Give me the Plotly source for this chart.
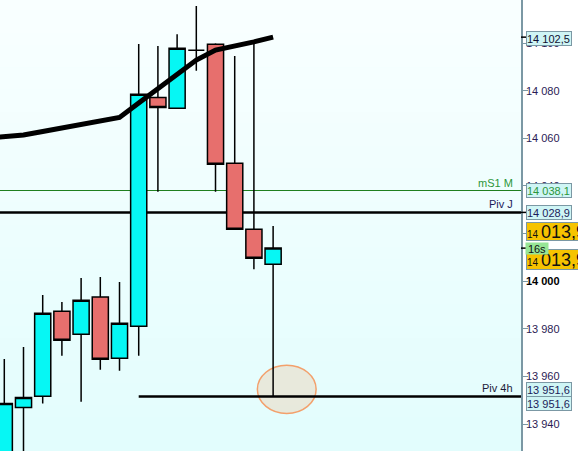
import plotly.graph_objects as go

# ---------------- data ----------------
bar_idx = list(range(15))
opens  = [13922.0, 13947.0, 13951.7, 13987.4, 13977.7, 13993.4, 13967.6, 13981.1, 14077.2, 14072.6, 14097.0, 14099.5, 14049.5, 14021.8, 14007.1]
highs  = [13967.3, 13972.4, 13994.2, 13991.3, 14001.3, 14001.8, 13999.7, 14099.6, 14098.8, 14103.7, 14115.6, 14099.9, 14094.6, 14099.9, 14023.2]
lows   = [13915.0, 13918.0, 13948.6, 13968.7, 13949.4, 13962.8, 13962.4, 13968.7, 14037.6, 14072.6, 14088.4, 14037.6, 14021.8, 14005.0, 13951.6]
closes = [13948.7, 13951.2, 13986.5, 13975.2, 13992.0, 13967.2, 13982.3, 14078.5, 14073.0, 14097.8, 14097.0, 14049.1, 14021.8, 14009.6, 14013.9]

ma_idx  = list(range(-1, 15))
ma_vals = [14060.1, 14060.8, 14061.4, 14062.9, 14064.4, 14065.9, 14067.4, 14068.8,
           14074.8, 14080.9, 14087.0, 14092.9, 14097.1, 14098.7, 14100.5, 14102.5]

level_names  = ["mS1 M", "Piv J", "Piv 4h"]
level_values = [14038.1, 14028.9, 13951.6]
level_start  = [None, None, 7.0]          # bar index where the line starts (None = left edge)

last_price = 14013.9
ma_last = 14102.5
timer_text = "16s"

tick_vals = [13940, 13960, 13980, 14000, 14020, 14040, 14060, 14080, 14100]
tick_text = ["13 940", "13 960", "13 980", "<b><span style='color:#000000'>14 000</span></b>",
             "14 020", "14 040", "14 060", "14 080", "14 100"]

circle_center = (14.71, 13954.6)
circle_half = (1.53, 10.16)

# ---------------- style ----------------
W, H = 578, 451
AX_PX = 521
dom_r = AX_PX / W
x_range = [-0.224, 26.91]
y_range = [13928.7, 14118.1]
FONT = "Liberation Sans, Arial, sans-serif"
AXCOL = "#7b98a4"

def fmt(v):
    s = f"{v:,.1f}".replace(",", " ").replace(".", ",")
    return s

fig = go.Figure()

fig.add_trace(go.Candlestick(
    x=bar_idx, open=opens, high=highs, low=lows, close=closes,
    increasing=dict(line=dict(color="black", width=1.5), fillcolor="#06f7f4"),
    decreasing=dict(line=dict(color="black", width=1.5), fillcolor="#e76f6d"),
    whiskerwidth=0, hoverinfo="skip", showlegend=False,
))

fig.add_trace(go.Scatter(
    x=ma_idx, y=ma_vals, mode="lines",
    line=dict(color="black", width=5), hoverinfo="skip", showlegend=False,
))

shapes = []
# background gradient
N = 40
top = (249, 255, 255)
bot = (226, 253, 253)
for k in range(N):
    t = (k + 0.5) / N
    c = tuple(int(round(top[i] + (bot[i] - top[i]) * t)) for i in range(3))
    shapes.append(dict(type="rect", xref="paper", yref="paper",
                       x0=0, x1=dom_r, y0=1 - (k + 1) / N, y1=1 - k / N + 0.001,
                       fillcolor=f"rgb{c}", line=dict(width=0), layer="below"))

# ellipse
cx, cy = circle_center
hx, hy = circle_half
shapes.append(dict(type="circle", xref="x", yref="y",
                   x0=cx - hx, x1=cx + hx, y0=cy - hy, y1=cy + hy,
                   fillcolor="rgba(232,226,208,0.75)",
                   line=dict(color="#f3a06c", width=1.5), layer="below"))

level_colors = ["#1f7f1f", "black", "black"]
level_widths = [1, 2.5, 2.5]
for name, val, st, col, wd in zip(level_names, level_values, level_start, level_colors, level_widths):
    if st is None:
        shapes.append(dict(type="line", xref="paper", yref="y", x0=0, x1=dom_r, y0=val, y1=val,
                           line=dict(color=col, width=wd), layer="below"))
    else:
        shapes.append(dict(type="line", xref="x", yref="y", x0=st, x1=x_range[1], y0=val, y1=val,
                           line=dict(color=col, width=wd), layer="below"))

# small black marker ticks on axis
for v in [ma_last, level_values[1], last_price]:
    shapes.append(dict(type="line", xref="paper", yref="y", x0=dom_r, x1=(AX_PX + 5) / W,
                       y0=v, y1=v, line=dict(color="black", width=1.5)))

annotations = []
# level names
name_colors = ["#2d963a", "#1c1c5a", "#1c1c3a"]
for name, val, col in zip(level_names, level_values, name_colors):
    annotations.append(dict(xref="paper", yref="y", x=515 / W, y=val, text=name,
                            xanchor="right", yanchor="bottom", showarrow=False, yshift=0,
                            font=dict(family=FONT, size=11, color=col)))

def axis_box(val, text_color, bg, yshift=0, width=44, text=None, height=13, size=11, bw=1, bc=AXCOL):
    annotations.append(dict(xref="paper", yref="y", x=(AX_PX + 4.5) / W, y=val,
                            text=text if text is not None else fmt(val),
                            xanchor="left", yanchor="middle", showarrow=False, yshift=yshift,
                            align="left", width=width, height=height,
                            bgcolor=bg, bordercolor=bc, borderwidth=bw, borderpad=0,
                            font=dict(family=FONT, size=size, color=text_color)))

axis_box(ma_last, "#101030", "#cff5f5", yshift=-1)
axis_box(level_values[0], "#2d963a", "#cff5f5", yshift=0)
axis_box(level_values[1], "#1c1c5a", "#cff5f5", yshift=-0.5)
big = ("<span style='font-size:10px'>14 </span>"
       "<span style=\"font-size:18px;font-family:'Liberation Sans Narrow','Arial Narrow',sans-serif\">013,9</span>")
axis_box(last_price, "#111111", "#f6c300", yshift=16.5, width=80, height=17, text=big)
axis_box(last_price, "#111111", "#f6c300", yshift=-11, width=80, height=19, text=big)
annotations.append(dict(xref="paper", yref="y", x=(AX_PX + 4) / W, y=last_price,
                        text=timer_text, xanchor="left", yanchor="middle", showarrow=False,
                        yshift=0, width=22, height=11, bgcolor="#96e596", borderpad=0,
                        font=dict(family=FONT, size=11, color="#111111")))
axis_box(level_values[2], "#1c1c5a", "#cff5f5", yshift=6.5)
axis_box(level_values[2], "#1c1c5a", "#cff5f5", yshift=-7.5)

fig.update_layout(
    width=W, height=H,
    margin=dict(l=0, r=0, t=0, b=0),
    paper_bgcolor="white",
    plot_bgcolor="#eefefe",
    boxgap=0.16, boxgroupgap=0,
    showlegend=False,
    shapes=shapes,
    annotations=annotations,
    hovermode=False,
    xaxis=dict(domain=[0, dom_r], range=x_range, visible=False, showgrid=False,
               zeroline=False, rangeslider=dict(visible=False), fixedrange=True),
    yaxis=dict(side="right", anchor="x", range=y_range, showgrid=False, zeroline=False,
               showline=True, linecolor=AXCOL, linewidth=1.5,
               ticks="outside", ticklen=5, tickcolor=AXCOL, tickwidth=1,
               ticklabelstandoff=-4,
               tickmode="array", tickvals=tick_vals, ticktext=tick_text,
               tickfont=dict(family=FONT, size=11, color="#2b1b55"), fixedrange=True),
)

fig.write_html("out.html", config={"displayModeBar": False},
               post_script="document.body.style.margin='0';document.body.style.overflow='hidden';")
